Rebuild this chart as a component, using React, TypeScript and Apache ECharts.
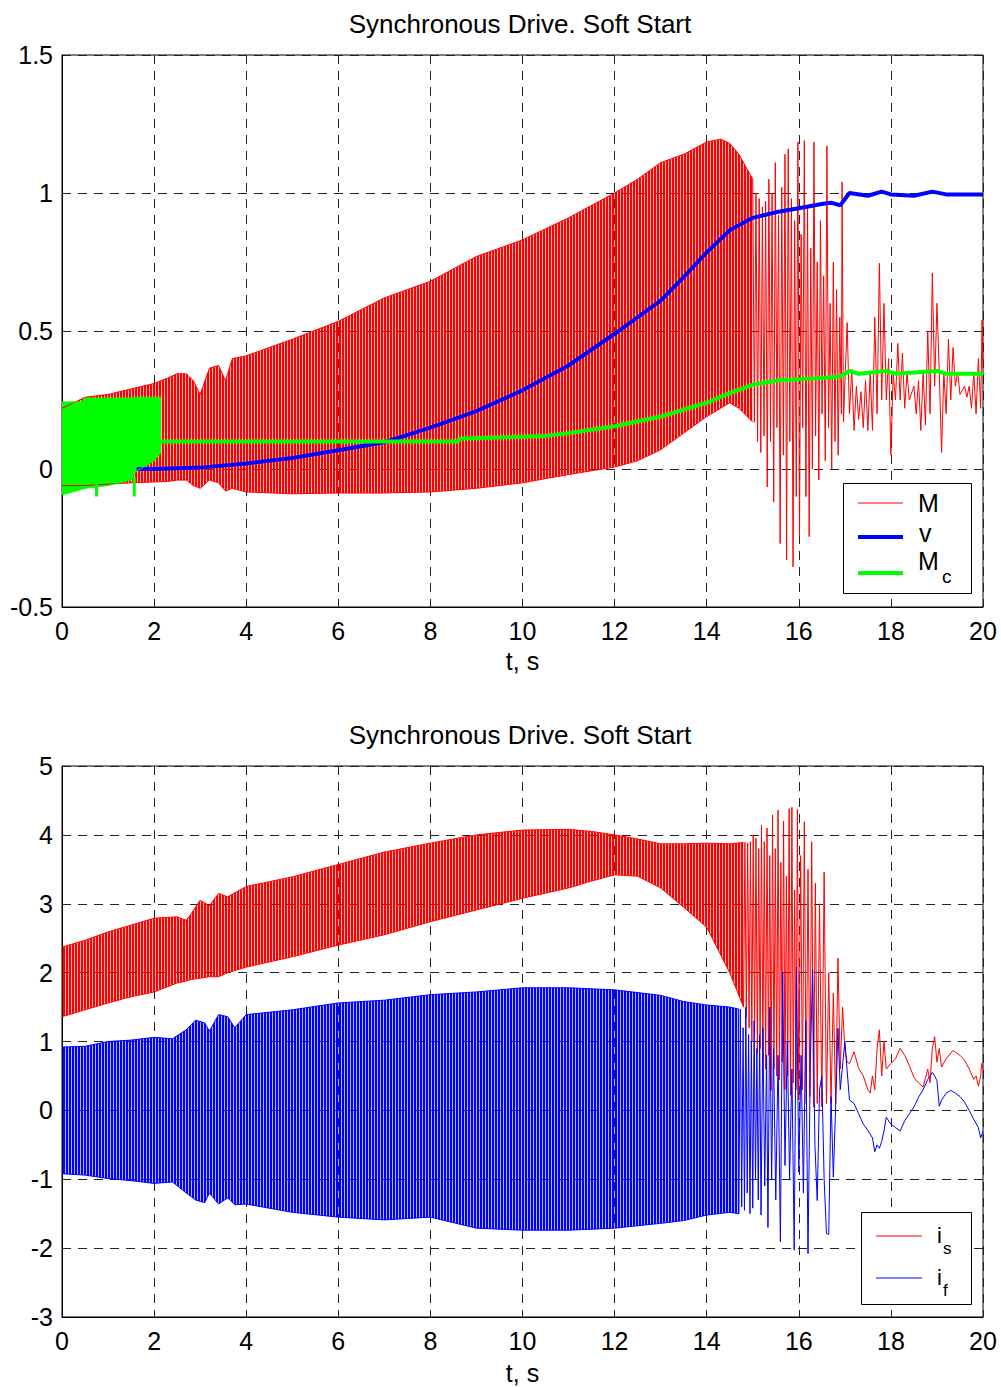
import React, { useEffect, useRef } from "react";
import * as echarts from "echarts";

const FONT = "Liberation Sans, Arial, Helvetica, sans-serif";
const TITLE = "Synchronous Drive. Soft Start";
const X_NAME = "t, s";

// ---------- Top plot: torque M (dense oscillation envelope) ----------
const M_BAND_T = [0, 0.5, 1, 1.5, 2, 2.3, 2.5, 2.7, 2.85, 3.0, 3.2, 3.4, 3.55, 3.7, 4, 5, 6, 7, 8, 9, 10, 11, 12, 12.5, 13, 13.5, 14, 14.3, 14.5, 14.7, 15.0];
const M_BAND_UP = [0.22, 0.26, 0.27, 0.29, 0.31, 0.33, 0.345, 0.345, 0.32, 0.27, 0.365, 0.375, 0.32, 0.4, 0.41, 0.47, 0.535, 0.62, 0.68, 0.77, 0.83, 0.91, 1.0, 1.05, 1.11, 1.14, 1.185, 1.195, 1.18, 1.14, 1.05];
const M_BAND_LO = [-0.06, -0.06, -0.055, -0.05, -0.047, -0.045, -0.04, -0.04, -0.06, -0.07, -0.04, -0.05, -0.08, -0.07, -0.083, -0.09, -0.087, -0.087, -0.083, -0.07, -0.05, -0.02, 0.007, 0.03, 0.07, 0.13, 0.19, 0.22, 0.24, 0.22, 0.17];
// individual swings after the band breaks up
const M_SPARSE: [number, number][] = [
  [15.0, 1.05], [15.035, 0.17], [15.07, 1.0], [15.105, 0.1], [15.14, 0.98], [15.175, 0.06], [15.21, 0.95], [15.245, 0.12],
  [15.28, 0.97], [15.315, -0.065], [15.35, 1.05], [15.385, 0.1], [15.42, 1.0], [15.455, -0.12], [15.49, 1.11], [15.525, 0.15],
  [15.56, 0.92], [15.595, -0.27], [15.63, 1.02], [15.665, 0.05], [15.7, 1.14], [15.735, -0.33], [15.77, 1.16], [15.805, 0.1],
  [15.84, 0.98], [15.875, -0.355], [15.91, 0.9], [15.945, -0.1], [15.98, 1.185], [16.015, -0.245], [16.05, 0.85], [16.085, 0.15],
  [16.12, 1.19], [16.155, -0.1], [16.19, 0.95], [16.225, -0.245], [16.26, 0.8], [16.295, 0.0], [16.33, 1.185], [16.365, 0.12],
  [16.4, 0.75], [16.435, -0.04], [16.47, 0.9], [16.505, 0.2], [16.54, 0.7], [16.575, 0.03], [16.61, 1.17], [16.645, 0.15],
  [16.68, 0.6], [16.715, 0.0], [16.75, 0.75], [16.785, 0.1], [16.82, 0.65], [16.855, 0.05], [16.89, 0.55], [16.925, 0.2],
  [16.94, 1.04], [16.97, 0.17],
  [17.05, 0.53], [17.1, 0.2], [17.15, 0.36], [17.2, 0.14], [17.25, 0.3], [17.3, 0.18], [17.35, 0.28], [17.4, 0.15],
  [17.45, 0.32], [17.5, 0.14], [17.55, 0.35], [17.6, 0.14], [17.65, 0.55], [17.7, 0.2], [17.75, 0.745], [17.8, 0.25],
  [17.85, 0.6], [17.9, 0.25], [17.95, 0.4], [18.0, 0.05], [18.05, 0.35], [18.1, 0.25], [18.15, 0.455], [18.2, 0.25],
  [18.25, 0.42], [18.3, 0.22], [18.35, 0.35], [18.4, 0.25], [18.5, 0.3], [18.55, 0.2], [18.6, 0.32], [18.65, 0.14],
  [18.7, 0.35], [18.75, 0.16], [18.8, 0.5], [18.85, 0.2], [18.9, 0.71], [18.95, 0.3], [19.0, 0.6], [19.05, 0.35],
  [19.1, 0.06], [19.15, 0.35], [19.2, 0.2], [19.25, 0.47], [19.3, 0.25], [19.35, 0.44], [19.4, 0.3], [19.45, 0.35],
  [19.5, 0.27], [19.6, 0.3], [19.65, 0.26], [19.7, 0.3], [19.75, 0.22], [19.8, 0.35], [19.85, 0.2], [19.9, 0.4],
  [19.95, 0.22], [19.98, 0.54], [20.0, 0.37],
];

// speed v
const V_T = [1.62, 2, 3, 4, 5, 6, 7, 8, 9, 10, 11, 12, 13, 13.5, 14, 14.5, 15, 15.5, 16, 16.5, 16.7, 16.9, 17.1, 17.5, 17.8, 18.0, 18.5, 18.9, 19.2, 20];
const V_VAL = [0.0, 0.0, 0.005, 0.02, 0.04, 0.068, 0.097, 0.15, 0.21, 0.285, 0.375, 0.49, 0.61, 0.695, 0.785, 0.865, 0.91, 0.93, 0.945, 0.96, 0.965, 0.955, 1.0, 0.99, 1.005, 0.995, 0.99, 1.005, 0.995, 0.995];

// load torque Mc: dense start, then smooth line
const MC_BAND_T = [0, 0.4, 0.5, 1.0, 1.5, 1.6, 2.0, 2.15];
const MC_BAND_UP = [0.243, 0.243, 0.257, 0.257, 0.257, 0.26, 0.26, 0.26];
const MC_BAND_LO = [-0.094, -0.075, -0.07, -0.06, -0.04, -0.01, 0.03, 0.06];
const MC_SPIKES: [number, number | null][] = [[0.75, -0.05], [0.75, -0.1], [1.57, null], [1.57, -0.03], [1.57, -0.1]];
const MC_T = [2.15, 6, 8.6, 8.62, 9.6, 10.5, 11, 12, 13, 14, 14.5, 15, 15.5, 16, 16.5, 16.9, 17.1, 17.3, 17.9, 18.1, 19.0, 19.2, 20];
const MC_VAL = [0.1, 0.1, 0.1, 0.11, 0.115, 0.12, 0.13, 0.155, 0.19, 0.24, 0.275, 0.305, 0.32, 0.325, 0.33, 0.335, 0.355, 0.345, 0.355, 0.345, 0.355, 0.345, 0.345];

// ---------- Bottom plot: stator current is ----------
const IS_BAND_T = [0, 0.5, 1, 1.5, 2, 2.5, 2.7, 2.8, 3.0, 3.2, 3.4, 3.6, 4, 5, 6, 7, 8, 9, 10, 11, 11.5, 12, 12.5, 13, 13.5, 14, 14.5, 14.8];
const IS_BAND_UP = [2.37, 2.47, 2.59, 2.69, 2.79, 2.81, 2.76, 2.85, 3.05, 2.97, 3.15, 3.1, 3.25, 3.39, 3.57, 3.75, 3.88, 4.0, 4.07, 4.08, 4.05, 4.0, 3.94, 3.87, 3.87, 3.88, 3.87, 3.89];
const IS_BAND_LO = [1.36, 1.46, 1.56, 1.65, 1.72, 1.85, 1.88, 1.9, 1.92, 1.94, 1.94, 2.0, 2.08, 2.23, 2.4, 2.55, 2.74, 2.91, 3.08, 3.23, 3.33, 3.42, 3.4, 3.23, 2.95, 2.66, 2.0, 1.5];
const IS_SPARSE: [number, number][] = [
  [14.8, 1.5], [14.83, 3.89], [14.86, 1.35], [14.89, 3.88], [14.92, 1.2], [14.95, 3.9], [14.98, 1.0], [15.01, 4.0],
  [15.04, 1.1], [15.07, 3.95], [15.1, 0.83], [15.13, 3.8], [15.16, 0.9], [15.19, 4.14], [15.22, 0.7], [15.25, 3.9],
  [15.28, 0.6], [15.31, 4.1], [15.34, 0.8], [15.37, 3.7], [15.4, 0.29], [15.43, 4.29], [15.46, 0.6], [15.49, 3.8],
  [15.52, 0.5], [15.55, 4.36], [15.58, 0.44], [15.61, 3.6], [15.64, 0.7], [15.67, 4.2], [15.7, 0.3], [15.73, 3.4],
  [15.76, 0.5], [15.79, 4.38], [15.82, 0.22], [15.85, 4.4], [15.88, 0.4], [15.91, 3.2], [15.94, 0.3], [15.97, 4.37],
  [16.0, 0.15], [16.04, 3.7], [16.08, 0.3], [16.12, 4.19], [16.16, 0.1], [16.2, 3.5], [16.24, 0.2], [16.28, 3.9],
  [16.32, 0.05], [16.36, 3.3], [16.4, 0.1], [16.45, 3.0], [16.5, 0.05], [16.55, 3.46], [16.6, 0.1], [16.65, 2.0],
  [16.7, 0.1], [16.75, 1.7], [16.8, 0.1], [16.85, 2.21], [16.9, 0.6], [16.95, 1.5], [17.0, 0.9], [17.05, 0.7],
  [17.1, 0.68], [17.2, 0.85], [17.3, 0.61], [17.4, 0.5], [17.5, 0.3], [17.55, 0.25], [17.6, 0.5], [17.65, 0.3],
  [17.7, 0.9], [17.75, 1.17], [17.8, 0.5], [17.85, 1.0], [17.9, 0.6], [18.0, 0.68], [18.1, 0.75], [18.2, 0.9],
  [18.3, 0.8], [18.4, 0.65], [18.5, 0.48], [18.6, 0.4], [18.7, 0.34], [18.8, 0.6], [18.85, 0.4], [18.9, 0.9],
  [18.95, 1.07], [19.0, 0.7], [19.05, 0.9], [19.1, 0.63], [19.2, 0.75], [19.35, 0.87], [19.5, 0.8], [19.6, 0.73],
  [19.7, 0.6], [19.8, 0.45], [19.85, 0.5], [19.9, 0.35], [19.95, 0.5], [19.97, 0.68], [20.0, 0.6],
];

// field current if
const IF_BAND_T = [0, 0.5, 1, 1.5, 2, 2.4, 2.7, 2.9, 3.1, 3.2, 3.4, 3.6, 3.75, 4, 5, 6, 7, 8, 9, 10, 11, 12, 13, 13.5, 14, 14.5, 14.7];
const IF_BAND_UP = [0.92, 0.93, 1.0, 1.02, 1.06, 1.04, 1.17, 1.31, 1.27, 1.15, 1.39, 1.36, 1.2, 1.39, 1.46, 1.56, 1.6, 1.68, 1.72, 1.78, 1.78, 1.75, 1.67, 1.58, 1.53, 1.5, 1.47];
const IF_BAND_LO = [-0.92, -0.94, -0.99, -1.02, -1.06, -1.04, -1.2, -1.3, -1.34, -1.2, -1.36, -1.27, -1.37, -1.36, -1.48, -1.55, -1.59, -1.55, -1.71, -1.74, -1.74, -1.71, -1.64, -1.6, -1.52, -1.48, -1.5];
const IF_SPARSE: [number, number][] = [
  [14.7, -1.5], [14.73, 1.47], [14.76, -1.4], [14.79, 1.2], [14.82, -1.45], [14.85, 1.5], [14.88, -1.2], [14.91, 1.1],
  [14.94, -1.5], [14.97, 1.0], [15.0, -1.42], [15.03, 1.3], [15.06, -1.0], [15.09, 0.9], [15.12, -1.3], [15.15, 1.1],
  [15.18, -1.52], [15.22, 1.2], [15.26, -1.1], [15.3, 0.8], [15.33, -1.7], [15.37, 1.5], [15.41, -1.0], [15.45, 0.9],
  [15.5, -1.3], [15.55, 0.8], [15.6, -1.91], [15.65, 2.0], [15.7, -0.8], [15.75, 1.0], [15.8, -1.0], [15.85, 0.6],
  [15.9, -2.03], [15.95, 2.08], [16.0, -0.9], [16.05, 0.8], [16.1, -1.2], [16.15, 1.3], [16.2, -2.08], [16.25, 0.7],
  [16.3, 2.04], [16.35, -0.5], [16.4, -1.31], [16.45, 0.3], [16.5, 0.5], [16.55, -1.0], [16.6, -1.79], [16.65, -1.8],
  [16.7, 0.2], [16.75, -0.97], [16.8, 0.05], [16.85, 1.19], [16.9, 0.3], [17.0, 1.0], [17.1, 0.15], [17.2, 0.1],
  [17.3, -0.05], [17.4, -0.2], [17.5, -0.29], [17.6, -0.4], [17.65, -0.6], [17.7, -0.5], [17.75, -0.55], [17.8, -0.45],
  [17.85, -0.3], [17.9, -0.1], [18.0, -0.2], [18.1, -0.25], [18.2, -0.3], [18.3, -0.15], [18.4, -0.05], [18.5, 0.05],
  [18.6, 0.19], [18.7, 0.3], [18.8, 0.45], [18.9, 0.55], [18.95, 0.5], [19.0, 0.43], [19.05, 0.06], [19.1, 0.15],
  [19.2, 0.25], [19.3, 0.29], [19.4, 0.25], [19.5, 0.2], [19.6, 0.12], [19.7, 0.0], [19.8, -0.13], [19.9, -0.25],
  [19.95, -0.4], [20.0, -0.3],
];

const RED = "#ff0000";
const BLUE = "#0000ff";
const GREEN = "#00ff00";

function stripes(color: string, gap: string) {
  const c = document.createElement("canvas");
  c.width = 3;
  c.height = 4;
  const ctx = c.getContext("2d")!;
  ctx.fillStyle = color;
  ctx.fillRect(0, 0, 2, 4);
  ctx.fillStyle = gap;
  ctx.fillRect(2, 0, 1, 4);
  return { image: c.toDataURL(), repeat: "repeat", imageWidth: 3, imageHeight: 4 };
}

// value first, time second: the stack then runs on the value (y) dimension
function band(id: string, t: number[], lo: number[], up: number[], edge: string, fill: any, edgeWidth: number, axis: number) {
  const common = {
    type: "line",
    xAxisIndex: axis,
    yAxisIndex: axis,
    stack: id,
    stackStrategy: "all",
    encode: { x: 1, y: 0 },
    symbol: "none",
    showSymbol: false,
    silent: true,
  };
  return [
    { ...common, name: id + " lower", data: t.map((x, i) => [lo[i], x]), lineStyle: { color: edge, width: edgeWidth } },
    {
      ...common,
      name: id + " upper",
      data: t.map((x, i) => [up[i] - lo[i], x]),
      lineStyle: { color: edge, width: edgeWidth },
      areaStyle: { color: fill, opacity: 1 },
    },
  ];
}

function line(name: string, data: any[], color: string, width: number, axis: number) {
  return {
    type: "line",
    name,
    xAxisIndex: axis,
    yAxisIndex: axis,
    data,
    symbol: "none",
    showSymbol: false,
    silent: true,
    connectNulls: false,
    lineStyle: { color, width },
  };
}

function xAxis(grid: number, gap: number) {
  return {
    gridIndex: grid,
    type: "value",
    min: 0,
    max: 20,
    interval: 2,
    axisLine: { show: true, onZero: false, lineStyle: { color: "#000", width: 1 } },
    axisTick: { show: false },
    splitLine: { show: true, lineStyle: { color: "#222", width: 1, type: [9, 7] } },
    axisLabel: { color: "#000", fontSize: 25, fontFamily: FONT, margin: 11 },
    name: X_NAME,
    nameLocation: "middle",
    nameGap: gap,
    nameTextStyle: { color: "#000", fontSize: 25, fontFamily: FONT },
  };
}

function yAxis(grid: number, min: number, max: number, interval: number) {
  return {
    gridIndex: grid,
    type: "value",
    min,
    max,
    interval,
    axisLine: { show: true, onZero: false, lineStyle: { color: "#000", width: 1 } },
    axisTick: { show: false },
    splitLine: { show: true, lineStyle: { color: "#222", width: 1, type: [9, 7] } },
    axisLabel: { color: "#000", fontSize: 25, fontFamily: FONT, margin: 9 },
  };
}

function txt(text: string, x: number, y: number, size: number, align = "left") {
  return {
    type: "text",
    x,
    y,
    z: 101,
    style: { text, fill: "#000", font: `${size}px ${FONT}`, align, verticalAlign: "middle" },
  };
}

function seg(x1: number, x2: number, y: number, color: string, width: number) {
  return { type: "line", z: 101, shape: { x1, y1: y, x2, y2: y }, style: { stroke: color, lineWidth: width } };
}

export default function App() {
  const ref = useRef<HTMLDivElement>(null);
  useEffect(() => {
    if (!ref.current) return;
    const chart = echarts.init(ref.current, undefined, { renderer: "svg" });
    const redFill = stripes(RED, "rgba(255,0,0,0.28)");
    const blueFill = stripes(BLUE, "rgba(0,0,255,0.28)");

    const series: any[] = [
      ...band("Mband", M_BAND_T, M_BAND_LO, M_BAND_UP, RED, redFill, 1, 0),
      line("M", M_SPARSE, RED, 1, 0),
      line("v", V_T.map((x, i) => [x, V_VAL[i]]), BLUE, 4, 0),
      ...band("Mcband", MC_BAND_T, MC_BAND_LO, MC_BAND_UP, GREEN, GREEN, 1, 0),
      line("Mc spikes", MC_SPIKES, GREEN, 3, 0),
      line("Mc", MC_T.map((x, i) => [x, MC_VAL[i]]), GREEN, 4, 0),
      ...band("isband", IS_BAND_T, IS_BAND_LO, IS_BAND_UP, RED, redFill, 1, 1),
      line("is", IS_SPARSE, RED, 1, 1),
      ...band("ifband", IF_BAND_T, IF_BAND_LO, IF_BAND_UP, BLUE, blueFill, 1, 1),
      line("if", IF_SPARSE, BLUE, 1, 1),
    ];

    chart.setOption({
      animation: false,
      backgroundColor: "#fff",
      textStyle: { fontFamily: FONT },
      grid: [
        { left: 62, top: 55, width: 921, height: 552, show: true, borderColor: "#000", borderWidth: 1, backgroundColor: "#fff" },
        { left: 62, top: 766, width: 921, height: 551, show: true, borderColor: "#000", borderWidth: 1, backgroundColor: "#fff" },
      ],
      xAxis: [xAxis(0, 41), xAxis(1, 43)],
      yAxis: [yAxis(0, -0.5, 1.5, 0.5), yAxis(1, -3, 5, 1)],
      series,
      graphic: [
        txt(TITLE, 520, 24, 26, "center"),
        txt(TITLE, 520, 735, 26, "center"),
        // legend, top plot
        { type: "rect", z: 100, shape: { x: 843.5, y: 483.5, width: 128, height: 110 }, style: { fill: "#fff", stroke: "#000", lineWidth: 1 } },
        seg(858, 903, 503, RED, 1),
        seg(858, 903, 537, BLUE, 4),
        seg(858, 903, 573, GREEN, 4),
        txt("M", 918, 503, 25),
        txt("v", 919, 533, 25),
        txt("M", 918, 561, 25),
        txt("c", 942, 576, 19),
        // legend, bottom plot
        { type: "rect", z: 100, shape: { x: 861.5, y: 1212.5, width: 110, height: 92 }, style: { fill: "#fff", stroke: "#000", lineWidth: 1 } },
        seg(876, 922, 1236, RED, 1),
        seg(876, 922, 1278, BLUE, 1),
        txt("i", 937, 1235, 22),
        txt("s", 943, 1248, 17),
        txt("i", 937, 1277, 22),
        txt("f", 943, 1290, 17),
      ],
    });
    return () => chart.dispose();
  }, []);
  return <div ref={ref} style={{ position: "absolute", left: 0, top: 0, width: 1001, height: 1387 }} />;
}
